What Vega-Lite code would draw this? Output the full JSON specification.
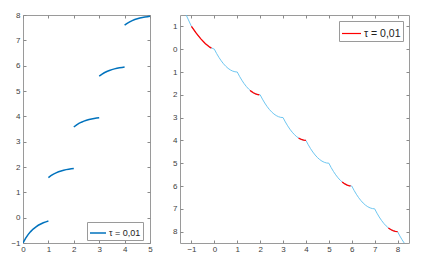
{
  "$schema": "https://vega.github.io/schema/vega-lite/v6.json",
  "padding": {"left": 10, "top": 10, "right": 5, "bottom": 5},
  "bounds": "flush",
  "spacing": 30,
  "background": "white",
  "config": {
    "view": {"stroke": "#9a9a9a", "strokeWidth": 1},
    "axis": {"domain": false, "grid": false, "tickSize": -3, "tickColor": "#8a8a8a", "tickWidth": 1, "labelFont": "Liberation Sans", "labelFontSize": 8, "labelColor": "#404040", "labelFlush": false, "labelOverlap": false, "title": null},
    "axisX": {"labelPadding": 5},
    "axisY": {"labelPadding": 6},
    "legend": {"orient": "none", "title": null, "strokeColor": "#9a9a9a", "fillColor": "white", "padding": 2, "symbolType": "stroke", "labelFont": "Liberation Sans", "labelColor": "#222222", "labelOffset": 2, "rowPadding": 0}
  },
  "datasets": {
    "left": [
      {"seg": 0, "x": 0, "y": -1}, {"seg": 0, "x": 0.1, "y": -0.82}, {"seg": 0, "x": 0.2, "y": -0.67}, {"seg": 0, "x": 0.3, "y": -0.55}, {"seg": 0, "x": 0.4, "y": -0.45}, {"seg": 0, "x": 0.5, "y": -0.37}, {"seg": 0, "x": 0.6, "y": -0.3}, {"seg": 0, "x": 0.7, "y": -0.25}, {"seg": 0, "x": 0.8, "y": -0.2}, {"seg": 0, "x": 0.9, "y": -0.165}, {"seg": 0, "x": 1, "y": -0.135},
      {"seg": 1, "x": 1, "y": 1.58}, {"seg": 1, "x": 1.1, "y": 1.656}, {"seg": 1, "x": 1.2, "y": 1.719}, {"seg": 1, "x": 1.3, "y": 1.769}, {"seg": 1, "x": 1.4, "y": 1.811}, {"seg": 1, "x": 1.5, "y": 1.845}, {"seg": 1, "x": 1.6, "y": 1.874}, {"seg": 1, "x": 1.7, "y": 1.896}, {"seg": 1, "x": 1.8, "y": 1.915}, {"seg": 1, "x": 1.9, "y": 1.931}, {"seg": 1, "x": 2, "y": 1.943},
      {"seg": 2, "x": 2, "y": 3.58}, {"seg": 2, "x": 2.1, "y": 3.656}, {"seg": 2, "x": 2.2, "y": 3.719}, {"seg": 2, "x": 2.3, "y": 3.769}, {"seg": 2, "x": 2.4, "y": 3.811}, {"seg": 2, "x": 2.5, "y": 3.845}, {"seg": 2, "x": 2.6, "y": 3.874}, {"seg": 2, "x": 2.7, "y": 3.896}, {"seg": 2, "x": 2.8, "y": 3.915}, {"seg": 2, "x": 2.9, "y": 3.931}, {"seg": 2, "x": 3, "y": 3.943},
      {"seg": 3, "x": 3, "y": 5.59}, {"seg": 3, "x": 3.1, "y": 5.66}, {"seg": 3, "x": 3.2, "y": 5.72}, {"seg": 3, "x": 3.3, "y": 5.77}, {"seg": 3, "x": 3.4, "y": 5.81}, {"seg": 3, "x": 3.5, "y": 5.845}, {"seg": 3, "x": 3.6, "y": 5.874}, {"seg": 3, "x": 3.7, "y": 5.896}, {"seg": 3, "x": 3.8, "y": 5.915}, {"seg": 3, "x": 3.9, "y": 5.931}, {"seg": 3, "x": 4, "y": 5.945},
      {"seg": 4, "x": 4, "y": 7.6}, {"seg": 4, "x": 4.1, "y": 7.67}, {"seg": 4, "x": 4.2, "y": 7.73}, {"seg": 4, "x": 4.3, "y": 7.78}, {"seg": 4, "x": 4.4, "y": 7.82}, {"seg": 4, "x": 4.5, "y": 7.85}, {"seg": 4, "x": 4.6, "y": 7.88}, {"seg": 4, "x": 4.7, "y": 7.9}, {"seg": 4, "x": 4.8, "y": 7.92}, {"seg": 4, "x": 4.9, "y": 7.935}, {"seg": 4, "x": 5, "y": 7.95}
    ],
    "path": [
      {"x": -1.23, "y": -1.5}, {"x": -1, "y": -1}, {"x": -0.8, "y": -0.716}, {"x": -0.6, "y": -0.465}, {"x": -0.4, "y": -0.253}, {"x": -0.2, "y": -0.089}, {"x": 0, "y": 0},
      {"x": 0.1, "y": 0.19}, {"x": 0.2, "y": 0.36}, {"x": 0.3, "y": 0.51}, {"x": 0.4, "y": 0.64}, {"x": 0.5, "y": 0.75}, {"x": 0.6, "y": 0.84}, {"x": 0.7, "y": 0.91}, {"x": 0.8, "y": 0.96}, {"x": 0.9, "y": 0.99}, {"x": 1, "y": 1},
      {"x": 1.1, "y": 1.19}, {"x": 1.2, "y": 1.36}, {"x": 1.3, "y": 1.51}, {"x": 1.4, "y": 1.64}, {"x": 1.5, "y": 1.75}, {"x": 1.6, "y": 1.84}, {"x": 1.7, "y": 1.91}, {"x": 1.8, "y": 1.96}, {"x": 1.9, "y": 1.99}, {"x": 2, "y": 2},
      {"x": 2.1, "y": 2.19}, {"x": 2.2, "y": 2.36}, {"x": 2.3, "y": 2.51}, {"x": 2.4, "y": 2.64}, {"x": 2.5, "y": 2.75}, {"x": 2.6, "y": 2.84}, {"x": 2.7, "y": 2.91}, {"x": 2.8, "y": 2.96}, {"x": 2.9, "y": 2.99}, {"x": 3, "y": 3},
      {"x": 3.1, "y": 3.19}, {"x": 3.2, "y": 3.36}, {"x": 3.3, "y": 3.51}, {"x": 3.4, "y": 3.64}, {"x": 3.5, "y": 3.75}, {"x": 3.6, "y": 3.84}, {"x": 3.7, "y": 3.91}, {"x": 3.8, "y": 3.96}, {"x": 3.9, "y": 3.99}, {"x": 4, "y": 4},
      {"x": 4.1, "y": 4.19}, {"x": 4.2, "y": 4.36}, {"x": 4.3, "y": 4.51}, {"x": 4.4, "y": 4.64}, {"x": 4.5, "y": 4.75}, {"x": 4.6, "y": 4.84}, {"x": 4.7, "y": 4.91}, {"x": 4.8, "y": 4.96}, {"x": 4.9, "y": 4.99}, {"x": 5, "y": 5},
      {"x": 5.1, "y": 5.19}, {"x": 5.2, "y": 5.36}, {"x": 5.3, "y": 5.51}, {"x": 5.4, "y": 5.64}, {"x": 5.5, "y": 5.75}, {"x": 5.6, "y": 5.84}, {"x": 5.7, "y": 5.91}, {"x": 5.8, "y": 5.96}, {"x": 5.9, "y": 5.99}, {"x": 6, "y": 6},
      {"x": 6.1, "y": 6.19}, {"x": 6.2, "y": 6.36}, {"x": 6.3, "y": 6.51}, {"x": 6.4, "y": 6.64}, {"x": 6.5, "y": 6.75}, {"x": 6.6, "y": 6.84}, {"x": 6.7, "y": 6.91}, {"x": 6.8, "y": 6.96}, {"x": 6.9, "y": 6.99}, {"x": 7, "y": 7},
      {"x": 7.1, "y": 7.19}, {"x": 7.2, "y": 7.36}, {"x": 7.3, "y": 7.51}, {"x": 7.4, "y": 7.64}, {"x": 7.5, "y": 7.75}, {"x": 7.6, "y": 7.84}, {"x": 7.7, "y": 7.91}, {"x": 7.8, "y": 7.96}, {"x": 7.9, "y": 7.99}, {"x": 8, "y": 8},
      {"x": 8.1, "y": 8.19}, {"x": 8.2, "y": 8.36}, {"x": 8.29, "y": 8.5}
    ],
    "red": [
      {"seg": 0, "x": -1, "y": -1}, {"seg": 0, "x": -0.8, "y": -0.716}, {"seg": 0, "x": -0.6, "y": -0.465}, {"seg": 0, "x": -0.4, "y": -0.253}, {"seg": 0, "x": -0.2, "y": -0.089}, {"seg": 0, "x": -0.13, "y": -0.05},
      {"seg": 1, "x": 1.56, "y": 1.806}, {"seg": 1, "x": 1.6, "y": 1.84}, {"seg": 1, "x": 1.7, "y": 1.91}, {"seg": 1, "x": 1.8, "y": 1.96}, {"seg": 1, "x": 1.9, "y": 1.99}, {"seg": 1, "x": 1.96, "y": 1.998},
      {"seg": 2, "x": 3.68, "y": 3.898}, {"seg": 2, "x": 3.8, "y": 3.96}, {"seg": 2, "x": 3.9, "y": 3.99}, {"seg": 2, "x": 4, "y": 4},
      {"seg": 3, "x": 5.58, "y": 5.824}, {"seg": 3, "x": 5.7, "y": 5.91}, {"seg": 3, "x": 5.8, "y": 5.96}, {"seg": 3, "x": 5.9, "y": 5.99}, {"seg": 3, "x": 5.95, "y": 5.998},
      {"seg": 4, "x": 7.6, "y": 7.84}, {"seg": 4, "x": 7.7, "y": 7.91}, {"seg": 4, "x": 7.8, "y": 7.96}, {"seg": 4, "x": 7.9, "y": 7.99}, {"seg": 4, "x": 8, "y": 8}
    ]
  },
  "resolve": {"scale": {"color": "independent"}, "legend": {"color": "independent"}},
  "hconcat": [
    {
      "width": 127,
      "height": 228,
      "data": {"name": "left"},
      "transform": [{"calculate": "'τ = 0,01'", "as": "series"}],
      "resolve": {"axis": {"x": "independent", "y": "independent"}},
      "layer": [
        {
          "mark": {"type": "line", "strokeWidth": 1.5, "clip": true},
          "encoding": {
            "x": {"field": "x", "type": "quantitative", "scale": {"domain": [0, 5], "nice": false, "zero": false}, "axis": {"values": [0, 1, 2, 3, 4, 5]}},
            "y": {"field": "y", "type": "quantitative", "scale": {"domain": [-1, 8], "nice": false, "zero": false}, "axis": {"values": [-1, 0, 1, 2, 3, 4, 5, 6, 7, 8]}},
            "detail": {"field": "seg"},
            "color": {"field": "series", "type": "nominal", "scale": {"range": ["#0072bd"]}, "legend": {"legendX": 64, "legendY": 207, "symbolSize": 256, "symbolStrokeWidth": 1.5, "labelFontSize": 9}}
          }
        },
        {
          "mark": {"type": "line", "opacity": 0},
          "encoding": {
            "x": {"field": "x", "type": "quantitative", "axis": {"orient": "top", "labels": false, "values": [0, 1, 2, 3, 4, 5]}},
            "y": {"field": "y", "type": "quantitative", "axis": {"orient": "right", "labels": false, "values": [-1, 0, 1, 2, 3, 4, 5, 6, 7, 8]}},
            "detail": {"field": "seg"}
          }
        }
      ]
    },
    {
      "width": 229,
      "height": 228,
      "resolve": {"axis": {"x": "independent", "y": "independent"}},
      "layer": [
        {
          "data": {"name": "path"},
          "mark": {"type": "line", "color": "#5ec0ee", "strokeWidth": 0.9, "clip": true},
          "encoding": {
            "x": {"field": "x", "type": "quantitative", "scale": {"domain": [-1.5, 8.5], "nice": false, "zero": false}, "axis": {"values": [-1, 0, 1, 2, 3, 4, 5, 6, 7, 8]}},
            "y": {"field": "y", "type": "quantitative", "scale": {"domain": [-1.5, 8.5], "nice": false, "zero": false, "reverse": true}, "axis": {"values": [-1, 0, 1, 2, 3, 4, 5, 6, 7, 8], "labelExpr": "datum.value < 0 ? '1' : datum.label"}}
          }
        },
        {
          "data": {"name": "red"},
          "transform": [{"calculate": "'τ = 0,01'", "as": "series"}],
          "mark": {"type": "line", "strokeWidth": 1.3, "clip": true},
          "encoding": {
            "x": {"field": "x", "type": "quantitative", "axis": {"orient": "top", "labels": false, "values": [-1, 0, 1, 2, 3, 4, 5, 6, 7, 8]}},
            "y": {"field": "y", "type": "quantitative", "axis": {"orient": "right", "labels": false, "values": [-1, 0, 1, 2, 3, 4, 5, 6, 7, 8]}},
            "detail": {"field": "seg"},
            "color": {"field": "series", "type": "nominal", "scale": {"range": ["#ff0000"]}, "legend": {"legendX": 159, "legendY": 6, "symbolSize": 361, "symbolStrokeWidth": 1.2, "labelFontSize": 10.5}}
          }
        }
      ]
    }
  ]
}
